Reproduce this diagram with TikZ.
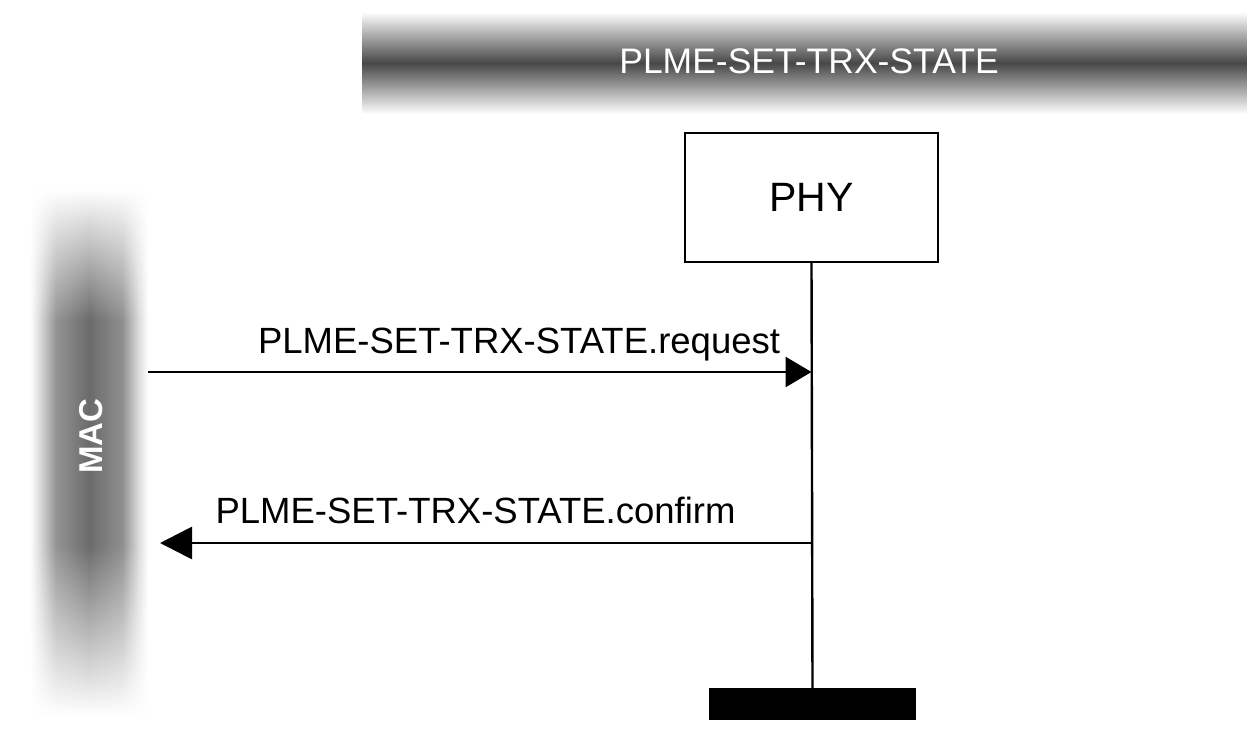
\documentclass[tikz,border=0pt]{standalone}
\usepackage{fontspec}
\setmainfont{Liberation Sans}
\usetikzlibrary{arrows.meta,fadings}
\tikzfading[name=fadeup, top color=transparent!100, bottom color=transparent!0]
\tikzfading[name=fadedown, top color=transparent!0, bottom color=transparent!100]
\pgfdeclarehorizontalshading{machs}{100bp}{color(0bp)=(white); color(25bp)=(white); color(29bp)=(black!14); color(36bp)=(black!42); color(50bp)=(black!58); color(64bp)=(black!44); color(71bp)=(black!14); color(75bp)=(white); color(100bp)=(white)}
\tikzset{
  lbl/.style={font=\fontsize{36.5}{40}\selectfont, inner sep=0pt},
  msg/.style={line width=2.8pt, -{Triangle[length=26pt,width=30pt]}},
  life/.style={line width=2.4pt},
  macpart/.style={shading=machs},
}
\begin{document}
\begin{tikzpicture}[x=1pt,y=-1pt]
\useasboundingbox (0,0) rectangle (1247,739);
\fill[white] (0,0) rectangle (1247,739);
% banner
\shade[top color=white, bottom color=white, middle color=black!72] (362,12) rectangle (1247,114);
\node[font=\fontsize{35.5}{40}\selectfont, inner sep=0pt, text=white] (banner) at (809,61) {PLME-SET-TRX-STATE};
% MAC bar
\shade[macpart, path fading=fadeup] (30,190) rectangle (148,320.5);
\shade[macpart] (30,320) rectangle (148,545.5);
\shade[macpart, path fading=fadedown] (30,545) rectangle (148,715);
\node[font=\fontsize{33}{38}\selectfont\bfseries, text=white, rotate=90, inner sep=0pt] (mac) at (91,436) {MAC};
% PHY
\node[draw, line width=2.2pt, minimum width=253pt, minimum height=129pt, inner sep=0pt, font=\fontsize{41}{46}\selectfont] (phy) at (811.5,197.5) {PHY};
\node[fill=black, minimum width=207pt, minimum height=32pt, inner sep=0pt] (bar) at (812.5,704) {};
\draw[life] (phy.south) -- (bar.north);
% messages
\coordinate (reqs) at (148,372);
\coordinate (reqe) at (phy.south |- reqs);
\draw[msg] (reqs) -- (reqe);
\node[lbl, anchor=base] (reqlbl) at (519,353) {PLME-SET-TRX-STATE.request};
\coordinate (cons) at (phy.south |- 0,543);
\coordinate (cone) at (160,543);
\draw[msg, -{Triangle[length=32pt,width=32pt]}] (cons) -- (cone);
\node[lbl, anchor=base] (conlbl) at (475.5,523) {PLME-SET-TRX-STATE.confirm};
\end{tikzpicture}
\end{document}
